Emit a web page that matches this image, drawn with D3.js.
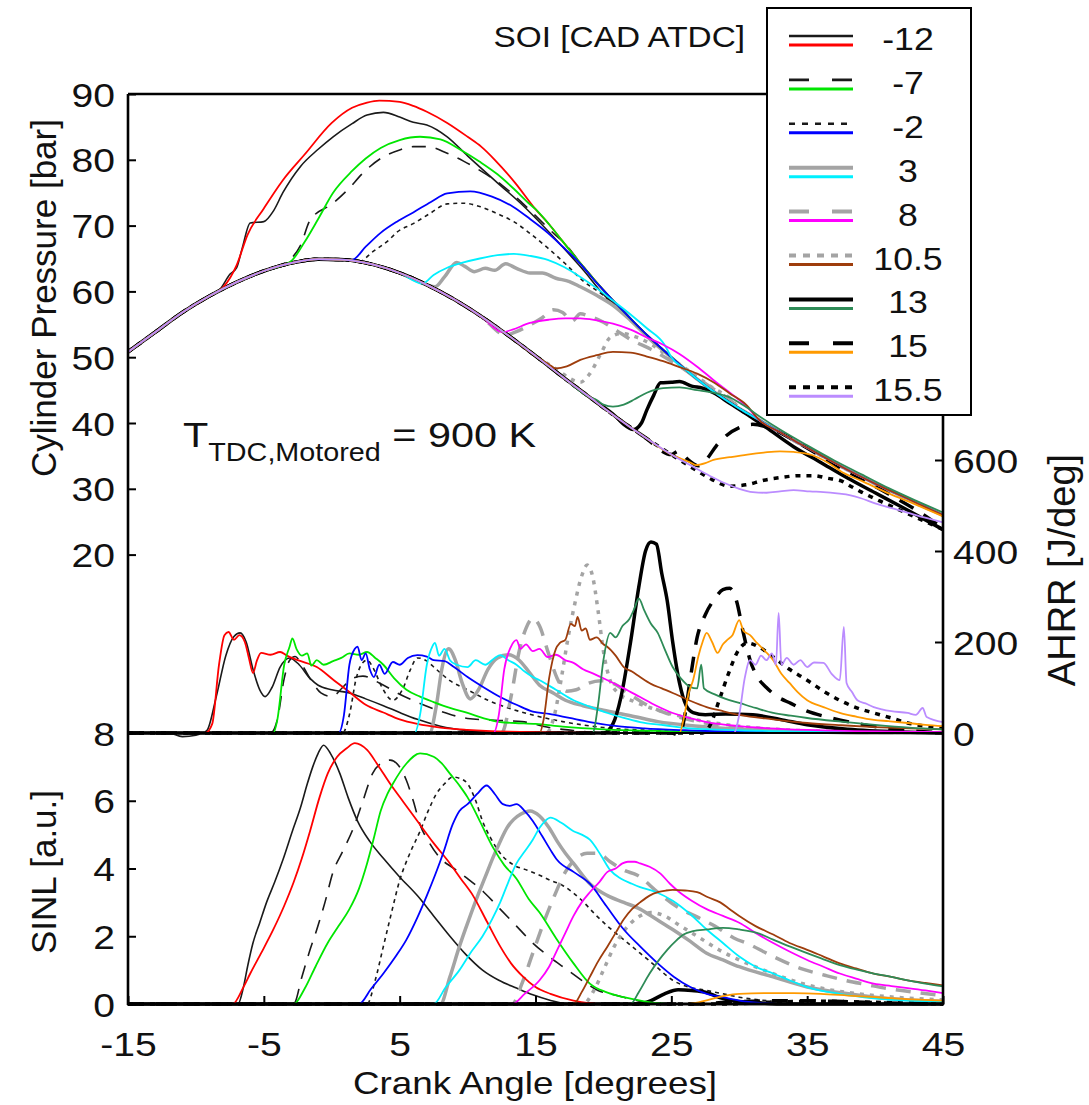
<!DOCTYPE html>
<html><head><meta charset="utf-8">
<script src="https://cdnjs.cloudflare.com/ajax/libs/d3/7.8.5/d3.min.js"></script>
<style>
body{margin:0;background:#fff}
svg{display:block}
text{font-family:"Liberation Sans",Arial,Helvetica,sans-serif;fill:#111}
</style>
</head><body>
<svg id="c" width="1089" height="1105"></svg>
<script>
// ---------- categories / legend ----------
const soiLabels = ["-12","-7","-2","3","8","10.5","13","15","15.5"];
const simColors = ["#ff0000","#00e600","#0000ff","#00f0ff","#ff00ff","#9e3d0c","#2e8b57","#ff9a00","#bb8cff"];

// ---------- tick labels ----------
const xTicks = [-15,-5,5,15,25,35,45];
const pTicks = [20,30,40,50,60,70,80,90];
const aTicks = [0,200,400,600];
const sTicks = [0,2,4,6,8];

// ---------- cylinder pressure [bar] vs CA ----------
const motored = [[-15,50.8],[-13,53.8],[-11,56.8],[-9,59.3],[-7,61.4],[-5,63.1],[-3,64.3],[-1,64.9],[1,64.8],[3,64.1],[5,62.8],[7,61.0],[9,58.8],[11,56.2],[13,53.3],[15,50.2],[17,47.0],[19,43.9],[21,40.8],[23,37.9],[25,35.2],[27,32.9],[28,31.8],[29,30.8]];
const envelope = [[3.5,89],[5,88.8],[6,88.2],[7,87.3],[8.5,85.6],[10,83.5],[11,82],[12,80],[13.5,76.5],[15,72.5],[16,70.2],[17,67.6],[18.5,63.8],[20,60.2],[21,58],[22.5,54.8],[23.5,52.8],[25,50],[26,48.2],[27,46.5],[28.5,44.2],[30,42.2],[31.5,40.4],[33,38.6],[34.5,36.8],[36,35.1],[37.5,33.4],[39,31.8],[40.5,30.3],[42,28.9],[43.5,27.4],[45,26]];
const pRed = [[-8,60.6],[-7,64],[-6.2,68.6],[-5,72.6],[-3.6,76.9],[-2,80.8],[0,85.6],[1.5,87.9],[2.6,88.7]];
const pBlk12 = [[-8.2,60.4],[-7.5,62.6],[-7,63.6],[-6.6,66.5],[-6,70.4],[-5,70.6],[-4.3,72.2],[-3.6,75],[-2.3,79],[-1,81.6],[0.1,83.5],[1.5,85.5],[2.6,86.8],[3.8,87.2],[5,86.5],[6,85.7],[7,85.3],[8.5,83.5],[10,80.6],[12.2,76.5],[14,73.2],[16,69.0],[18.5,63.3],[20.5,58.6]];
const pGreen = [[-3,64.6],[-2,67.5],[-1,71],[0.1,75],[1.5,78.3],[2.5,80.2],[3.6,81.8],[5,83],[6.5,83.5],[8,83.1],[9.5,81.5],[10.9,79.7],[12.2,77.8],[13.4,75.6],[14.5,73.4]];
const pBlkDash7 = [[-3,65],[-2.3,67],[-1.6,70.8],[0.1,73.4],[1.2,75.5],[2.3,78],[3.6,80.2],[5,81.5],[6,82],[7,82],[8.5,81],[9.7,79.8],[10.9,78.4],[12.5,76.2],[14,73.5],[15.5,70.5],[16.5,68.5]];
const pBlue = [[1.5,64.8],[2.5,66.8],[3.6,68.9],[4.8,70.6],[6,72],[7.3,73.6],[8.5,74.9],[10.2,75.2],[11.8,74.4],[13.4,72.8],[14.6,71],[15.9,68.9],[17,66.8],[18.3,64.2],[19.5,61.3]];
const pBlkDot2 = [[2,64.5],[3,66],[4.2,67.8],[4.8,69],[6,70.3],[7.2,71.8],[8.5,73.3],[9.7,73.4],[10.9,72.9],[12.2,71.8],[13.4,70.6],[14.6,68.8],[15.9,66.6],[17.2,64.2],[18.5,61.6],[20,59.4],[20.8,58.0]];
const pCyan = [[6.7,61.2],[7.5,62.5],[8.5,63.6],[9.7,64.4],[10.9,65],[12.2,65.5],[13.4,65.7],[14.6,65.4],[15.9,64.8],[17.1,63.7],[18.3,62.2],[19.5,60.5],[20.7,58.6],[22,56.5],[23.2,54.4],[24.5,51.9]];
const pGray3 = [[7.6,60.7],[8.3,62.2],[9.2,64.4],[9.8,63.8],[10.5,63],[11.3,63.5],[12,63.2],[12.8,64.2],[13.6,63.5],[14.6,62.8],[15.5,62.8],[16.5,62],[17.5,61.5],[18.3,60.7],[19.5,59.4],[20.7,57.9],[22,55.6],[23.5,52.6],[24.8,50.3]];
const pMagenta = [[12.6,53.8],[13.3,54.2],[14.6,55.2],[16,55.7],[17.2,55.9],[18.3,55.9],[19.5,55.6],[20.7,55.1],[22,54.2],[23.2,53],[24.4,51.9],[25.6,50.5],[27,48.4],[28.3,46.2],[29.5,44.3],[30.5,42.6]];
const pGray8 = [[12.8,53.4],[13.5,53.8],[14.5,54.8],[15.5,56],[16.3,57.2],[17,56.8],[17.7,55.5],[18.3,56.6],[19,56.2],[20,55.3],[21,54],[22,52.7],[23.5,51.2],[25,49.4],[26.5,47.4],[28,45.3],[29.5,43.2]];
const pBrown = [[16,48.9],[16.5,48.3],[17.3,48.6],[18.3,49.6],[19.5,50.3],[20.7,50.8],[22,50.7],[23.2,50.1],[24.4,49.4],[25.6,48.5],[26.9,47.5],[28.1,46.2],[29.3,44.5],[30.5,42.8]];
const pGray10 = [[16.8,47.8],[17.5,46.8],[18.3,46.2],[19,47.5],[19.8,50.5],[20.5,53],[21.3,53.6],[22.5,53],[23.5,52],[25,49.8],[26.5,47.6],[28,45.4],[29.5,43.4]];
const pSeagreen = [[19.5,43.5],[20,42.8],[20.7,42.5],[21.5,42.8],[22.3,43.6],[23.2,44.6],[24.4,45.3],[25.6,45.4],[26.9,45],[28.1,44.6],[29.3,43.9],[30.6,42.3],[31.5,41],[33,39],[35,36.6],[37,34.3],[39,32.2],[41,30.1],[43,28.2],[45,26.4]];
const pBlk13 = [[21.5,39.8],[22.2,39],[22.8,40],[23.2,42],[23.7,44.2],[24.2,46.1],[25,46.2],[25.6,46.3],[26.5,45.6],[27.3,45.3],[28.1,44.6],[29.3,43],[30.6,41.3],[32,39.3],[34,36.4],[36,34],[38,31.6],[40,29.4],[42,27.2],[45,23.8]];
const pOrange = [[26.4,34],[26.8,33.6],[27.5,33.9],[28.1,34.4],[29.3,34.8],[30.6,35.2],[31.8,35.5],[33,35.7],[34,35.6],[35.4,35.1],[36.5,34],[37.7,32.4],[39,31.2],[41,29.3],[43,27.6],[45,25.8]];
const pBlkDash15 = [[25.5,35.7],[26.3,34.3],[27,33.5],[27.6,34.5],[28.3,36.5],[29,38],[30,39.3],[31,39.8],[32,39.4],[33.5,38],[35,36.2],[37,33.7],[39,31.5],[41,29.2],[43,26.8],[45,24]];
const pLavender = [[30,30.0],[31,29.5],[32,29.4],[33,29.6],[34,29.8],[35.2,29.6],[36.2,29.5],[37.2,29.3],[38.2,29],[38.9,28.6],[40,27.8],[41.5,26.9],[43,26],[45,24.9]];
const pBlkDot15 = [[27,32.6],[28,31.4],[29.3,30.4],[30.5,30.6],[31.8,31.3],[33,31.7],[34.5,32],[35.5,32],[36.5,31.6],[37.5,31.2],[38.2,30.4],[39,29.5],[40.5,28],[42,26.6],[43.5,25.2],[45,23.8]];

// ---------- AHRR [J/deg] vs CA ----------
const aRed = [[-15,0],[-9.3,0],[-8.8,20],[-8.3,150],[-7.9,215],[-7.6,222],[-7.2,205],[-6.8,215],[-6.4,200],[-6.1,165],[-5.8,132],[-5.5,160],[-5.2,176],[-4.5,172],[-3.8,178],[-3.3,170],[-2.5,160],[-1.1,145],[0.2,115],[1.3,90],[2.5,62],[3.8,45],[5,30],[6.3,20],[8,12],[10,7],[13,3],[20,0],[45,0]];
const aBlk12 = [[-15,0],[-12,0],[-11,-8],[-10,-5],[-9.2,5],[-8.5,80],[-7.8,170],[-7.2,212],[-6.75,220],[-6.3,200],[-5.8,140],[-5.3,95],[-4.9,80],[-4.4,100],[-3.8,145],[-3.1,165],[-2.4,150],[-1.6,120],[-1,105],[0,95],[1.3,88],[2.5,75],[3.8,60],[5,45],[6.3,30],[8,15],[10,5],[12,0],[45,0]];
const aGreen = [[-15,0],[-4.3,0],[-4,30],[-3.5,150],[-3.1,190],[-2.9,208],[-2.6,185],[-2.2,170],[-1.8,175],[-1.5,148],[-1.1,160],[-0.6,150],[0.1,158],[0.7,165],[1.3,175],[2,172],[2.6,178],[3.2,165],[3.8,150],[4.6,120],[5.5,95],[6.5,80],[7.5,68],[8.7,55],[10,44],[11.2,32],[12.4,24],[13.5,22],[15,20],[17,14],[20,8],[25,4],[30,2],[45,0]];
const aBlkDash7 = [[-15,0],[-4.5,0],[-4,30],[-3.5,120],[-3.1,160],[-2.7,168],[-2.2,150],[-1.5,115],[-0.8,88],[0,80],[0.8,100],[1.5,120],[2.3,125],[3.5,110],[5,85],[6.5,65],[8,48],[10,32],[12,28],[14,25],[16,12],[18,5],[20,0],[45,0]];
const aBlue = [[-15,0],[0.5,0],[0.9,40],[1.3,150],[1.7,185],[1.9,190],[2.2,160],[2.5,175],[2.8,140],[3.1,123],[3.5,150],[3.9,130],[4.5,156],[5,150],[5.6,165],[6.3,171],[7,168],[7.5,160],[8.3,158],[9,145],[10,123],[11.2,100],[12.4,79],[13.6,62],[14.8,47],[16,42],[17.5,33],[19,24],[21,15],[23,10],[26,6],[30,3],[35,1],[45,0]];
const aBlkDot2 = [[-15,0],[0.8,0],[1.3,40],[1.8,120],[2.3,155],[2.6,160],[3.1,140],[3.7,100],[4.5,72],[5.2,95],[5.8,140],[6.3,165],[6.9,160],[7.7,140],[8.7,115],[10,95],[11.5,72],[13,55],[15,38],[17,25],[20,12],[24,5],[30,0],[45,0]];
const aCyan = [[-15,0],[6.1,0],[6.5,40],[7,150],[7.4,190],[7.6,198],[7.9,170],[8.3,185],[8.7,160],[9.2,150],[10,145],[10.6,160],[11.3,150],[12,165],[12.4,171],[13,160],[13.6,150],[14.2,135],[14.8,123],[15.3,116],[16.5,95],[17.8,72],[19,58],[20.3,44],[21.5,33],[22.7,24],[24.5,17],[26.4,10],[30,6],[35,3],[45,0]];
const aGray3 = [[-15,0],[7.2,0],[7.7,60],[8.1,140],[8.6,185],[9.1,160],[9.6,110],[10.2,75],[10.8,95],[11.5,140],[12.2,165],[13,172],[13.8,160],[14.5,135],[15.3,105],[16.3,88],[17.2,72],[18.5,60],[20,50],[22,38],[24,25],[27,15],[30,8],[35,3],[40,0],[45,0]];
const aMagenta = [[-15,0],[11.9,0],[12.3,40],[12.7,140],[13.2,190],[13.6,204],[13.9,185],[14.3,195],[14.8,180],[15.3,185],[15.9,167],[16.5,172],[17.2,160],[17.8,154],[18.5,140],[19.3,130],[20.3,116],[21.5,98],[22.7,79],[23.9,60],[25.1,44],[26.3,33],[27.6,24],[30,15],[33,9],[37,5],[45,2]];
const aGray8 = [[-15,0],[12.5,0],[13.2,80],[13.8,180],[14.3,230],[14.8,252],[15.3,235],[15.9,180],[16.6,120],[17.3,92],[18,95],[18.8,108],[19.8,115],[20.8,108],[21.8,88],[23,65],[24.5,45],[26.5,28],[29,15],[33,6],[38,2],[45,0]];
const aBrown = [[-15,0],[15.3,0],[15.6,30],[16,120],[16.5,185],[16.8,198],[17.2,205],[17.6,240],[17.9,235],[18.1,255],[18.4,225],[18.7,230],[19,205],[19.5,210],[20,195],[20.3,189],[20.9,170],[21.5,145],[22.1,135],[22.7,123],[23.5,108],[24.3,98],[25.1,88],[26.3,72],[27.6,57],[28.8,48],[30,40],[32.5,30],[35,22],[37.5,17],[40,13],[42.5,10],[45,8]];
const aGray10 = [[-15,0],[15.8,0],[16.4,40],[16.9,120],[17.4,210],[17.9,285],[18.4,345],[18.8,369],[19.2,345],[19.6,270],[20,180],[20.5,115],[21.2,85],[22.2,70],[23.5,55],[25,42],[27,28],[30,15],[34,6],[40,2],[45,0]];
const aSeagreen = [[-15,0],[19.2,0],[19.6,60],[20,160],[20.5,220],[20.9,210],[21.4,235],[21.9,250],[22.3,275],[22.6,296],[23,270],[23.5,240],[24,220],[24.5,185],[25.1,145],[25.7,120],[26.4,101],[26.9,98],[27.2,150],[27.4,98],[28.2,85],[29,75],[30,66],[31.2,55],[32.5,44],[33.8,38],[35,33],[37.5,25],[40,18],[42.5,12],[45,8]];
const aBlk13 = [[-15,0],[20,0],[20.7,20],[21.3,80],[22,200],[22.6,320],[23.1,400],[23.5,420],[23.9,415],[24.3,350],[24.7,290],[25.1,200],[25.6,110],[26.1,60],[26.6,45],[27.5,40],[29,42],[31,40],[33,30],[35,18],[38,8],[42,2],[45,0]];
const aOrange = [[-15,0],[25.6,0],[25.9,30],[26.3,90],[26.6,116],[27,170],[27.3,200],[27.6,220],[28,200],[28.4,176],[28.8,195],[29.1,204],[29.5,215],[30,248],[30.3,225],[30.8,215],[31.3,198],[31.9,180],[32.5,160],[33.1,130],[33.7,110],[34.3,90],[35,72],[36.2,57],[37.4,44],[38.6,36],[39.9,29],[41,26],[42.4,22],[43.7,18],[45,15]];
const aBlkDash15 = [[-15,0],[25,0],[25.6,-5],[26,40],[26.4,120],[26.9,210],[27.5,260],[28.2,295],[28.8,315],[29.3,318],[29.8,290],[30.3,220],[30.8,160],[31.3,125],[32,100],[32.8,80],[33.8,65],[35,48],[36.5,35],[38.5,22],[41,10],[43,4],[45,0]];
const aLavender = [[-15,0],[29.6,0],[30,40],[30.4,120],[30.8,160],[31.2,150],[31.6,170],[32,160],[32.4,175],[32.7,150],[32.9,264],[33.1,150],[33.5,165],[34,150],[34.5,160],[35,145],[35.5,155],[36.2,154],[36.8,130],[37.4,116],[37.7,233],[37.9,110],[38.3,90],[38.7,72],[39.3,65],[39.9,57],[40.5,52],[41.2,48],[42.4,44],[43,40],[43.5,55],[43.8,35],[45,24]];
const aBlkDot15 = [[-15,0],[27.3,0],[27.9,20],[28.5,70],[29.2,130],[29.9,180],[30.6,198],[31.5,188],[32.5,167],[33.7,140],[35,116],[36.2,92],[37.4,72],[38.6,56],[39.9,44],[41.2,33],[42.4,22],[43.7,15],[45,10]];

// ---------- SINL [a.u.] vs CA ----------
const sRed = [[-15,0],[-7.3,0],[-6.5,0.5],[-6,0.9],[-5.2,1.5],[-4.3,2.2],[-3.5,2.9],[-2.8,3.6],[-2.2,4.3],[-1.6,5.1],[-0.9,6.1],[-0.3,6.8],[0.4,7.3],[1.1,7.55],[1.7,7.7],[2.6,7.5],[3.4,7.05],[4.3,6.5],[5.3,5.95],[6.3,5.4],[7.5,4.75],[8.7,4.15],[9.5,3.7],[10.4,3.2],[11.4,2.45],[12.4,1.7],[13.2,1.2],[14.1,0.8],[15,0.5],[16.1,0.3],[17.8,0.1],[20,0],[45,0]];
const sBlk12 = [[-15,0],[-6.9,0],[-6.5,0.5],[-6.2,1.1],[-5.8,1.8],[-5.3,2.4],[-4.8,3.0],[-4.2,3.6],[-3.6,4.25],[-2.9,5.1],[-2.3,5.8],[-1.8,6.5],[-1.4,7.0],[-1,7.4],[-0.6,7.64],[-0.1,7.4],[0.6,6.8],[1.2,6.1],[1.9,5.4],[2.8,4.8],[3.8,4.3],[5,3.75],[6.3,3.2],[7.5,2.6],[8.7,2.0],[9.9,1.45],[11.1,1.0],[12.3,0.7],[13.6,0.47],[14.8,0.27],[16,0.12],[17.5,0],[45,0]];
const sGreen = [[-15,0],[-2.8,0],[-2,0.45],[-1.2,1.1],[-0.3,1.8],[0.5,2.3],[1.3,2.8],[2,3.4],[2.6,4.15],[3.1,4.9],[3.6,5.7],[4.1,6.2],[4.5,6.5],[5.5,7.1],[6.5,7.4],[7.5,7.3],[8.1,7.1],[8.7,6.8],[9.4,6.45],[10,6.1],[10.9,5.4],[11.9,4.6],[12.7,4.1],[13.6,3.7],[14.5,3.1],[15.3,2.7],[16.5,1.95],[17.8,1.2],[19,0.6],[20.2,0.35],[21.5,0.2],[23,0.08],[25,0],[45,0]];
const sBlkDash7 = [[-15,0],[-2.8,0],[-2.2,0.8],[-1.6,1.6],[-1.1,2.2],[-0.5,3.0],[0.1,3.9],[0.8,4.5],[1.6,5.2],[2.3,6.0],[3,6.8],[3.6,7.1],[4.3,7.2],[4.9,7.05],[5.5,6.6],[6,6.0],[6.5,5.3],[7.2,4.75],[8,4.3],[9,4.0],[10,3.7],[11.2,3.3],[12.4,2.8],[13.6,2.3],[14.8,1.8],[16,1.4],[17.2,1.05],[18.4,0.7],[19.6,0.4],[21,0.25],[22.5,0.1],[24,0],[45,0]];
const sBlue = [[-15,0],[2.0,0],[2.9,0.45],[3.8,0.9],[4.7,1.4],[5.5,1.9],[6.3,2.55],[7,3.2],[7.6,3.8],[8.2,4.45],[8.9,5.3],[9.4,5.7],[10,5.9],[10.7,6.2],[11.4,6.45],[12,6.2],[12.6,5.9],[13.1,5.85],[13.6,5.9],[14.2,5.7],[14.8,5.4],[15.5,4.95],[16.1,4.55],[16.6,4.25],[17.8,3.9],[19,3.55],[20.2,2.9],[21.5,2.2],[22.7,1.7],[24,1.2],[25.2,0.8],[26.4,0.5],[27.6,0.3],[28.8,0.2],[30,0.1],[31.5,0.03],[33,0],[45,0]];
const sBlkDot2 = [[-15,0],[2.6,0],[3.2,0.7],[3.8,1.7],[4.4,2.7],[5,3.65],[5.7,4.4],[6.5,5.1],[7.1,5.7],[7.7,6.2],[8.3,6.5],[8.9,6.7],[9.5,6.65],[10,6.5],[10.6,6.0],[11.1,5.4],[11.7,4.9],[12.4,4.45],[13.4,4.1],[14.4,3.95],[15.3,3.8],[16.1,3.65],[17,3.5],[18.3,3.1],[19.5,2.6],[20.3,2.3],[21.5,1.9],[22.7,1.5],[23.9,1.1],[25.1,0.7],[26.3,0.5],[27.6,0.4],[28.8,0.3],[30,0.2],[32,0.1],[35,0],[45,0]];
const sCyan = [[-15,0],[7.5,0],[8.4,0.5],[9.4,1.0],[10.2,1.5],[11.1,2.0],[11.8,2.5],[12.4,3.0],[13,3.6],[13.6,4.15],[14.2,4.5],[14.8,4.85],[15.3,5.2],[15.7,5.4],[16.1,5.5],[16.9,5.35],[17.8,5.1],[18.4,5.0],[19,4.85],[19.8,4.4],[20.5,3.95],[21.3,3.7],[22.1,3.55],[22.7,3.45],[23.9,3.3],[25.1,3.05],[26.4,2.65],[27.6,2.2],[28.8,1.8],[30,1.4],[31.2,1.1],[32.5,0.9],[33.7,0.7],[35,0.5],[37.4,0.3],[39.9,0.17],[42.4,0.1],[45,0.08]];
const sGray3 = [[-15,0],[8,0],[8.7,0.8],[9.4,1.7],[10.1,2.5],[10.7,3.15],[11.3,3.75],[11.9,4.35],[12.4,4.8],[12.9,5.2],[13.4,5.45],[13.9,5.6],[14.6,5.7],[15.3,5.55],[16,5.2],[16.6,4.8],[17.2,4.45],[17.8,4.15],[19,3.55],[20.3,3.2],[21.5,3.0],[22.7,2.8],[23.9,2.5],[25.1,2.2],[26.4,1.85],[27.6,1.5],[28.8,1.3],[30,1.1],[32.5,0.8],[35,0.5],[37.5,0.33],[40,0.2],[42.5,0.12],[45,0.08]];
const sMagenta = [[-15,0],[13.3,0],[14.2,0.3],[15.3,0.7],[16,1.1],[16.6,1.6],[17.2,2.1],[17.8,2.6],[18.4,3.0],[19,3.3],[19.7,3.6],[20.3,3.9],[20.9,4.0],[21.4,4.15],[21.8,4.2],[22.3,4.2],[22.7,4.15],[23.4,4.05],[24.2,3.85],[24.9,3.55],[25.6,3.3],[26.5,3.05],[27.6,2.8],[28.8,2.6],[30,2.4],[31.2,2.1],[32.5,1.8],[33.7,1.55],[35,1.3],[36.2,1.1],[37.4,0.9],[38.6,0.75],[39.9,0.6],[41.2,0.53],[42.4,0.47],[43.7,0.4],[45,0.32]];
const sGray8 = [[-15,0],[13.3,0],[14,0.6],[14.8,1.5],[15.6,2.4],[16.4,3.2],[17.2,3.9],[18,4.3],[18.8,4.45],[19.6,4.45],[20.5,4.2],[21.5,3.95],[22.5,3.8],[24,3.3],[25.5,2.85],[27,2.55],[28.2,2.3],[29.6,1.95],[30.8,1.75],[32,1.5],[33.3,1.25],[34.5,1.05],[36.3,0.85],[38,0.68],[39.3,0.58],[41,0.45],[42.5,0.37],[45,0.25]];
const sBrown = [[-15,0],[17.8,0],[18.4,0.35],[19,0.8],[19.6,1.25],[20.3,1.7],[20.9,2.1],[21.5,2.5],[22.1,2.8],[22.7,3.0],[23.4,3.2],[24,3.3],[24.6,3.35],[25.1,3.37],[26,3.35],[26.9,3.3],[27.7,3.15],[28.6,3.0],[29.3,2.8],[30,2.6],[31.2,2.3],[32.5,2.05],[33.7,1.8],[35,1.6],[36.2,1.4],[37.4,1.2],[38.6,1.05],[39.9,0.9],[41.2,0.8],[42.4,0.7],[43.7,0.62],[45,0.55]];
const sGray10 = [[-15,0],[18.5,0],[19.3,0.4],[20,1.0],[20.8,1.7],[21.6,2.2],[22.5,2.55],[23.5,2.7],[24.5,2.6],[25.5,2.35],[26.5,2.1],[27.5,1.85],[28.5,1.6],[30,1.3],[31.5,1.05],[33,0.82],[34.5,0.62],[36,0.47],[38,0.34],[40,0.25],[42.5,0.17],[45,0.12]];
const sSeagreen = [[-15,0],[22,0],[22.6,0.35],[23.4,0.9],[24,1.25],[24.7,1.6],[25.3,1.85],[25.9,2.05],[26.6,2.15],[27.6,2.2],[28.8,2.25],[30,2.2],[31.3,2.1],[32.5,1.9],[33.7,1.7],[35,1.5],[36.2,1.32],[37.4,1.15],[38.6,1.02],[39.9,0.9],[41.2,0.8],[42.4,0.7],[43.7,0.6],[45,0.52]];
const sBlk13 = [[-15,0],[22.5,0],[23.5,0.1],[24.5,0.3],[25.5,0.42],[26.5,0.4],[27.5,0.35],[28.5,0.2],[29.5,0.1],[31,0.05],[33,0],[45,0]];
const sOrange = [[-15,0],[26,0],[27,0.05],[28,0.15],[29,0.25],[30,0.3],[32,0.32],[34,0.32],[36,0.3],[38,0.25],[40,0.2],[42,0.15],[45,0.1]];
const sBlkDash15 = [[-15,0],[27,0],[29,0.05],[31,0.08],[34,0.1],[37,0.08],[40,0.04],[45,0]];
const sLavender = [[-15,0],[45,0]];
const sBlkDot15 = [[-15,0],[29,0],[32,0.05],[36,0.08],[40,0.05],[45,0]];

// series grouped in legend order (index = SOI)
const pExp = [pBlk12,pBlkDash7,pBlkDot2,pGray3,pGray8,pGray10,pBlk13,pBlkDash15,pBlkDot15];
const pSim = [pRed,pGreen,pBlue,pCyan,pMagenta,pBrown,pSeagreen,pOrange,pLavender];
const aExp = [aBlk12,aBlkDash7,aBlkDot2,aGray3,aGray8,aGray10,aBlk13,aBlkDash15,aBlkDot15];
const aSim = [aRed,aGreen,aBlue,aCyan,aMagenta,aBrown,aSeagreen,aOrange,aLavender];
const sExp = [sBlk12,sBlkDash7,sBlkDot2,sGray3,sGray8,sGray10,sBlk13,sBlkDash15,sBlkDot15];
const sSim = [sRed,sGreen,sBlue,sCyan,sMagenta,sBrown,sSeagreen,sOrange,sLavender];

// ---------- drawing ----------
const GRAY = "#a4a4a4";
const expStyle = [
  {c:"#1a1a1a", w:1.6, d:null,    ld:null},
  {c:"#1a1a1a", w:1.6, d:"14,10", ld:"20,23"},
  {c:"#1a1a1a", w:1.6, d:"4,4",   ld:"6,7"},
  {c:GRAY,      w:3.5, d:null,    ld:null},
  {c:GRAY,      w:3.5, d:"15,10", ld:"20,23"},
  {c:GRAY,      w:3.5, d:"4,6",   ld:"7,7"},
  {c:"#000",    w:3.5, d:null,    ld:null},
  {c:"#000",    w:3.5, d:"16,12", ld:"20,24"},
  {c:"#000",    w:3.5, d:"5,6",   ld:"7,7"}
];
const SX = 1.15;

const svg = d3.select("#c");
const X  = d3.scaleLinear([-15,45],[128,943]);
const YP = d3.scaleLinear([20,90],[554.6,94]);
const YA = d3.scaleLinear([0,600],[733,460]);
const YS = d3.scaleLinear([0,8],[1004,733]);

function buildP(own){
  const x0 = own[0][0], x1 = own[own.length-1][0];
  let out = motored.filter(d=>d[0]<x0).concat(own);
  if (x1 < 45) out = out.concat(envelope.filter(d=>d[0]>x1+0.3));
  return out;
}
const lineP = d3.line().x(d=>X(d[0])).y(d=>YP(d[1])).curve(d3.curveMonotoneX);
const lineA = d3.line().x(d=>X(d[0])).y(d=>YA(d[1])).curve(d3.curveMonotoneX);
const lineS = d3.line().x(d=>X(d[0])).y(d=>YS(d[1])).curve(d3.curveMonotoneX);

const gData = svg.append("g");
function drawSet(arrs, gen, styleFn){
  arrs.forEach((a,i)=>{
    const st = styleFn(i);
    gData.append("path").attr("d", gen(a)).attr("fill","none")
      .attr("stroke", st.c).attr("stroke-width", st.w)
      .attr("stroke-dasharray", st.d)
      .attr("stroke-linejoin","round");
  });
}
const expFn = i => expStyle[i];
const simFn = i => ({c: simColors[i], w: 1.8, d: null});
// experiments first, then simulations on top
drawSet(pExp.map(buildP), lineP, expFn);
drawSet(aExp, lineA, expFn);
drawSet(sExp, lineS, expFn);
drawSet(pSim.map(buildP), lineP, simFn);
drawSet(aSim, lineA, simFn);
drawSet(sSim, lineS, simFn);

// ---------- frame ----------
const fr = svg.append("g").attr("stroke","#000").attr("stroke-width",2.6).attr("fill","none");
fr.append("line").attr("x1",128).attr("x2",128).attr("y1",94).attr("y2",1005);
fr.append("line").attr("x1",127).attr("x2",944).attr("y1",1004).attr("y2",1004).attr("stroke-width",3.2);
fr.append("line").attr("x1",943).attr("x2",943).attr("y1",94).attr("y2",1005);
fr.append("line").attr("x1",128).attr("x2",943).attr("y1",94).attr("y2",94);
fr.append("line").attr("x1",128).attr("x2",943).attr("y1",YS(8)).attr("y2",YS(8)).attr("stroke-width",1.8);

// ---------- axes ----------
const fmt = d => String(d);   // plain hyphen-minus as in the figure
function styleAxis(g, anchor, dx, dy){
  g.select(".domain").remove();
  g.selectAll(".tick line").attr("stroke","#000").attr("stroke-width",2);
  g.selectAll(".tick text").each(function(){
    const t = d3.select(this);
    t.attr("x",null).attr("y",null).attr("dy",null)
     .attr("text-anchor",anchor).attr("font-size",34).attr("fill","#111")
     .attr("transform",`translate(${dx},${dy}) scale(${SX},1)`);
  });
  g.attr("font-family",null).attr("font-size",null);
}
const axP = svg.append("g").attr("transform","translate(128,0)")
  .call(d3.axisLeft(YP).tickValues(pTicks).tickSize(-8).tickFormat(fmt));
styleAxis(axP,"end",-13,12);
const axS = svg.append("g").attr("transform","translate(128,0)")
  .call(d3.axisLeft(YS).tickValues(sTicks).tickSize(-8).tickFormat(fmt));
styleAxis(axS,"end",-13,12);
const axA = svg.append("g").attr("transform","translate(943,0)")
  .call(d3.axisRight(YA).tickValues(aTicks).tickSize(-8).tickFormat(fmt));
styleAxis(axA,"start",10,12);
const axX = svg.append("g").attr("transform","translate(0,1004)")
  .call(d3.axisBottom(X).tickValues(xTicks).tickSize(-8).tickFormat(fmt));
styleAxis(axX,"middle",0,52);

// ---------- titles ----------
function stext(x,y,str,size,anchor){
  return svg.append("text").attr("transform",`translate(${x},${y}) scale(${SX},1)`)
    .attr("text-anchor",anchor||"start").attr("font-size",size).text(str);
}
stext(535,1094,"Crank Angle [degrees]",32,"middle");
stext(745,47,"SOI [CAD ATDC]",29,"end");
svg.append("text").attr("transform","translate(56,298) rotate(-90)")
  .attr("text-anchor","middle").attr("font-size",35).text("Cylinder Pressure [bar]");
svg.append("text").attr("transform","translate(56,872) rotate(-90)")
  .attr("text-anchor","middle").attr("font-size",35).text("SINL [a.u.]");
svg.append("text").attr("transform","translate(1075,570) rotate(-90)")
  .attr("text-anchor","middle").attr("font-size",38).text("AHRR [J/deg]");
const tt = svg.append("text").attr("transform",`translate(183,447) scale(${SX},1)`).attr("font-size",36);
tt.append("tspan").text("T");
tt.append("tspan").attr("font-size",25).attr("dy",14).text("TDC,Motored");
tt.append("tspan").attr("dy",-14).text(" = 900 K");

// ---------- legend ----------
const lg = svg.append("g");
lg.append("rect").attr("x",767).attr("y",8).attr("width",204).attr("height",407)
  .attr("fill","#fff").attr("stroke","#000").attr("stroke-width",2);
soiLabels.forEach((lab,i)=>{
  const y0 = 36 + i*43.9;
  const st = expStyle[i];
  lg.append("line").attr("x1",789).attr("x2",853).attr("y1",y0).attr("y2",y0)
    .attr("stroke",st.c).attr("stroke-width",st.w>2?4:2.6).attr("stroke-dasharray",st.ld);
  lg.append("line").attr("x1",789).attr("x2",853).attr("y1",y0+9).attr("y2",y0+9)
    .attr("stroke",simColors[i]).attr("stroke-width",3);
  lg.append("text").attr("transform",`translate(908,${y0+14}) scale(${SX},1)`)
    .attr("text-anchor","middle").attr("font-size",31).text(lab);
});
</script>
</body></html>
